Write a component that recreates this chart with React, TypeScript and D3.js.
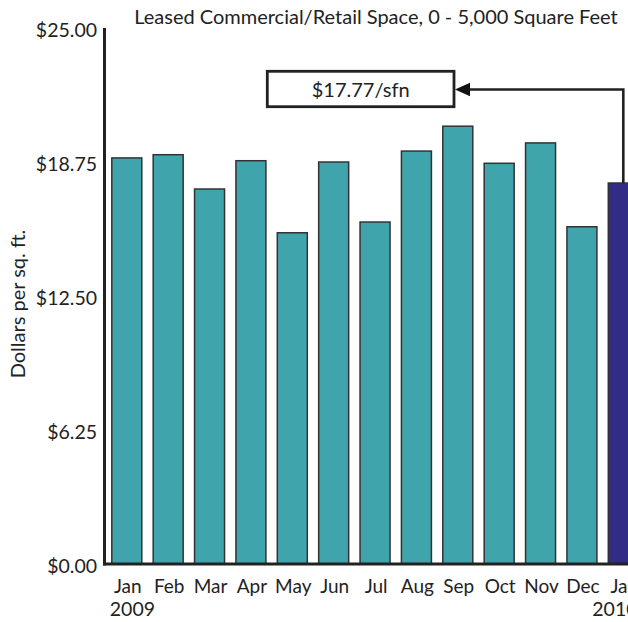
import React from 'react';
import * as d3 from 'd3';

// leased commercial/retail space, 0 - 5,000 sq ft, dollars per sq. ft.
const months = ['Jan', 'Feb', 'Mar', 'Apr', 'May', 'Jun', 'Jul', 'Aug', 'Sep', 'Oct', 'Nov', 'Dec', 'Jan'];
const keys = months.map((m, i) => `${m}-${i < 12 ? 2009 : 2010}`);
const values = [18.94, 19.09, 17.49, 18.81, 15.45, 18.75, 15.95, 19.26, 20.42, 18.69, 19.64, 15.73, 17.77];
const yTicks = [0, 6.25, 12.5, 18.75, 25];
const years = [
  { key: 'Jan-2009', label: '2009', dx: -2 },
  { key: 'Jan-2010', label: '2010', dx: -16 },
];
const calloutText = '$17.77/sfn';
const title = 'Leased Commercial/Retail Space, 0 - 5,000 Square Feet';
const yLabel = 'Dollars per sq. ft.';

const W = 628;
const H = 622;
const FONT = 'Lato, "DejaVu Sans", sans-serif';

export default function App() {
  const step = 41.375;
  const x0 = 111.8 - 0.1375 * step;
  const xScale = d3.scaleBand<string>()
    .domain(keys)
    .range([x0, x0 + keys.length * step])
    .paddingInner(0.275)
    .paddingOuter(0.1375);

  const yScale = d3.scaleLinear().domain([0, 25]).range([564, 28]);
  const fmt = d3.format('$.2f');

  const axisX = 104.5;
  const last = keys.length - 1;
  const lastCx = (xScale(keys[last]) as number) + xScale.bandwidth() / 2;
  const lastTop = yScale(values[last]);
  const box = { x: 267.3, y: 71.3, w: 186.7, h: 35.4 };
  const arrowY = box.y + box.h / 2 + 0.5;
  const tipX = box.x + box.w + 1;

  return (
    <svg width={W} height={H} style={{ position: 'absolute', left: 0, top: 0, background: '#fff' }}>
      <text x={376} y={24} textAnchor="middle" fontFamily={FONT} fontSize={20} fill="#222">{title}</text>

      <text transform={`translate(25,304) rotate(-90)`} textAnchor="middle" fontFamily={FONT} fontSize={20} fill="#222">{yLabel}</text>

      {yTicks.map(t => (
        <text key={t} x={97} y={yScale(t) + 8.5} textAnchor="end" fontFamily={FONT} fontSize={19.5} fill="#222">{fmt(t)}</text>
      ))}

      {values.map((v, i) => (
        <rect
          key={keys[i]}
          x={xScale(keys[i])}
          y={yScale(v)}
          width={xScale.bandwidth()}
          height={yScale(0) - yScale(v)}
          fill={i === last ? '#332C87' : '#3FA4AB'}
          stroke="#333"
          strokeWidth={1.5}
        />
      ))}

      <line x1={axisX} x2={axisX} y1={yScale(25)} y2={yScale(0) + 1.5} stroke="#222" strokeWidth={3} />
      <line x1={axisX - 1.5} x2={W} y1={yScale(0)} y2={yScale(0)} stroke="#222" strokeWidth={3} />

      {months.map((m, i) => (
        <text key={keys[i]} x={(xScale(keys[i]) as number) + xScale.bandwidth() / 2 + 1} y={593} textAnchor="middle" fontFamily={FONT} fontSize={19} fill="#222">{m}</text>
      ))}
      {years.map(yr => (
        <text key={yr.key} x={(xScale(yr.key) as number) + yr.dx} y={616} fontFamily={FONT} fontSize={19.5} fill="#222">{yr.label}</text>
      ))}

      <rect x={box.x} y={box.y} width={box.w} height={box.h} fill="#fff" stroke="#222" strokeWidth={2.8} />
      <text x={box.x + box.w / 2} y={box.y + 26} textAnchor="middle" fontFamily={FONT} fontSize={20} fill="#222">{calloutText}</text>
      <path d={`M${lastCx},${lastTop} V${arrowY} H${tipX + 12}`} fill="none" stroke="#222" strokeWidth={2.6} />
      <path d={`M${tipX},${arrowY} L${tipX + 15},${arrowY - 6.8} L${tipX + 15},${arrowY + 6.8} Z`} fill="#111" />
    </svg>
  );
}
